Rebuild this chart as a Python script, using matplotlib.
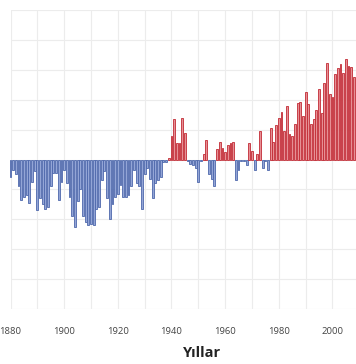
import matplotlib
matplotlib.use("Agg")
import matplotlib.pyplot as plt
import numpy as np

years = list(range(1880, 2009))
anomaly = [
    -0.12, -0.07, -0.10, -0.18, -0.27, -0.25, -0.24, -0.29, -0.15, -0.08,   # 1880-1889
    -0.34, -0.26, -0.30, -0.33, -0.32, -0.18, -0.09, -0.09, -0.27, -0.15,   # 1890-1899
    -0.07, -0.16, -0.25, -0.38, -0.45, -0.28, -0.20, -0.38, -0.42, -0.44,   # 1900-1909
    -0.43, -0.44, -0.33, -0.32, -0.14, -0.08, -0.26, -0.40, -0.30, -0.25,   # 1910-1919
    -0.23, -0.17, -0.25, -0.25, -0.24, -0.18, -0.07, -0.16, -0.18, -0.33,   # 1920-1929
    -0.10, -0.06, -0.13, -0.26, -0.16, -0.14, -0.12, -0.02, -0.02, 0.01,    # 1930-1939
    0.155, 0.27, 0.11, 0.11, 0.28, 0.18, -0.01, -0.03, -0.04, -0.06,        # 1940-1949
    -0.15, -0.01, 0.04, 0.13, -0.10, -0.13, -0.18, 0.07, 0.12, 0.08,        # 1950-1959
    0.05, 0.10, 0.11, 0.12, -0.14, -0.07, -0.01, -0.01, -0.04, 0.11,        # 1960-1969
    0.06, -0.07, 0.04, 0.19, -0.06, -0.01, -0.07, 0.21, 0.12, 0.23,         # 1970-1979
    0.28, 0.32, 0.19, 0.36, 0.17, 0.16, 0.24, 0.38, 0.385, 0.29,            # 1980-1989
    0.45, 0.37, 0.24, 0.27, 0.33, 0.47, 0.31, 0.51, 0.645, 0.44,            # 1990-1999
    0.42, 0.57, 0.61, 0.64, 0.58, 0.67, 0.625, 0.62, 0.55,                  # 2000-2008
]
xticks = [1880, 1900, 1920, 1940, 1960, 1980, 2000]
xlabel = "Yıllar"

W, H = 356, 364
fig = plt.figure(figsize=(W / 100, H / 100), dpi=100)
x0_px, px_per_year = 10.5, 2.683
x_left, x_right = 1880, 2010
ax_w = (x_right - x_left) * px_per_year
top_px, bot_px = 10, 309
ax = fig.add_axes([x0_px / W, (H - bot_px) / H, ax_w / W, (bot_px - top_px) / H])

vals = np.array(anomaly)
face = np.where(vals >= 0, "#e69095", "#93a5d6")
edge = np.where(vals >= 0, "#c22a34", "#4d67ab")
ax.bar(years, vals, width=0.7, color=face, edgecolor=edge, linewidth=0.6,
       clip_on=False, zorder=3)

ax.set_xlim(x_left, x_right)
ax.set_ylim(-1.0, 1.0)
ax.set_xticks(np.arange(1880, 2011, 10))
ax.set_yticks(np.arange(-1.0, 1.01, 0.2))
ax.grid(True, color="#ececec", linewidth=0.8, zorder=0)
ax.set_axisbelow(True)
for s in ax.spines.values():
    s.set_visible(False)
ax.tick_params(length=0, labelleft=False, labelbottom=False)

for t in xticks:
    xp = x0_px + (t - x_left) * px_per_year
    fig.text(xp / W, 1 - 331.5 / H, str(t), ha="center", va="center",
             fontsize=6.8, color="#444444", family="Open Sans")

fig.text(202 / W, 1 - 353 / H, xlabel, ha="center", va="center",
         fontsize=10.5, fontweight="bold", color="#222222", family="Open Sans")

fig.savefig("out.png", dpi=100, facecolor="white")
